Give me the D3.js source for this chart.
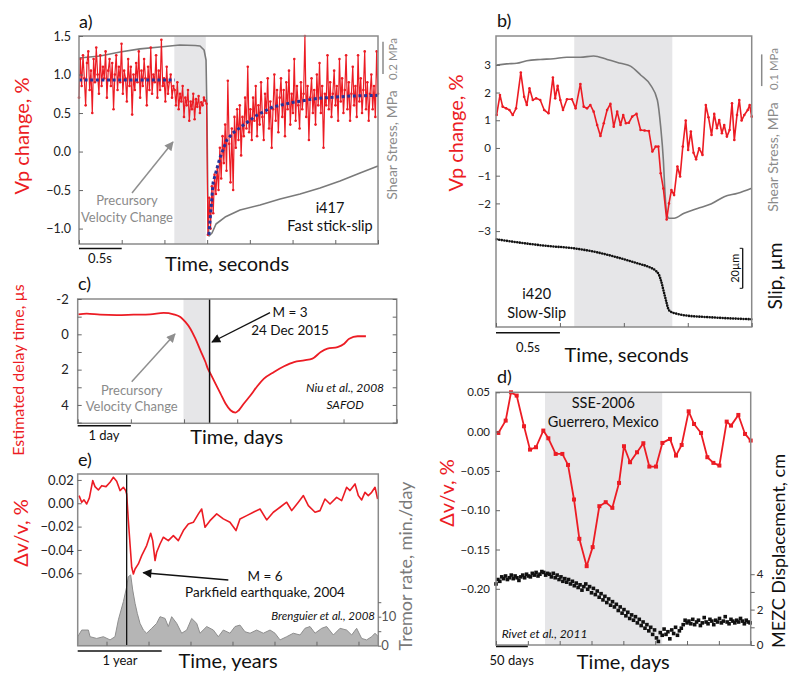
<!DOCTYPE html>
<html><head><meta charset="utf-8">
<script src="https://cdn.jsdelivr.net/npm/d3@7"></script>
<style>body{margin:0;background:#fff}text{font-family:Lato,"Open Sans",sans-serif}</style>
</head><body><svg id="c" width="800" height="686"></svg>
<script>
// ---------------- DATA ----------------
// Panel a (i417 fast stick-slip), time in s, sampled uniformly over 0..3.5 s
const aDuration = 3.5;
const aVp = [0.70,1.20,0.85,1.25,0.95,0.60,1.15,1.30,0.80,1.05,
  0.50,1.20,0.90,1.35,1.00,0.75,1.25,0.85,1.10,0.95,
  1.30,0.70,1.05,1.20,0.85,1.15,0.55,1.00,1.25,0.80,
  1.10,0.90,1.40,0.75,1.05,0.95,0.65,1.20,0.85,1.10,
  0.48,1.00,0.80,1.15,0.90,1.30,0.70,1.05,0.85,1.20,
  0.95,0.60,1.10,0.80,1.35,0.75,1.00,0.90,1.25,0.70,
  1.05,0.80,1.45,0.85,0.95,0.65,1.10,0.75,0.90,1.00,
  0.70,0.85,
  0.80,0.60,0.90,0.55,0.75,0.65,0.85,0.45,0.70,0.60,
  0.80,0.40,0.65,0.55,0.75,0.42,0.68,0.58,0.72,0.50,
  0.64,0.60,0.70,0.66,
  0.62,-1.08,
  -0.60,-1.00,-0.45,-0.80,-0.30,-0.55,-0.20,-0.50,0.05,-0.35,
  0.20,-0.15,0.35,-0.25,0.92,0.10,-0.40,0.30,-0.50,0.45,
  0.05,0.55,0.15,0.60,-0.05,0.45,0.20,0.70,0.30,1.10,
  0.25,0.55,0.15,0.70,0.40,0.85,0.20,0.60,0.35,0.90,
  0.45,0.15,0.75,0.50,0.95,0.30,0.65,0.05,0.55,1.00,
  0.40,0.80,0.25,0.70,0.95,0.45,0.80,0.20,0.90,0.55,
  1.05,0.35,0.75,0.50,1.20,0.40,0.85,0.60,0.30,0.90,
  0.55,0.75,1.50,0.45,0.85,0.15,0.70,0.95,0.50,0.80,
  0.35,1.00,0.60,1.15,0.50,0.85,0.05,0.75,0.60,1.25,
  0.55,0.90,0.45,0.75,1.05,0.60,0.85,0.40,1.20,0.65,
  0.95,0.50,0.80,1.25,0.55,0.90,0.40,0.75,1.10,0.60,
  0.85,0.45,1.25,0.65,0.95,0.50,0.80,1.30,0.55,0.90,
  0.40,0.75,1.00,0.55,0.85,0.45,1.30,0.75];
const aFitT = [0,1.12,null,1.52,1.57,1.65,1.73,1.80,1.92,2.08,2.27,2.51,2.79,3.17,3.5];
const aFitV = [0.93,0.93,null,-1.08,-0.40,-0.08,0.15,0.24,0.34,0.47,0.58,0.64,0.69,0.72,0.73];
const aStressT = [0,0.246,0.48,0.714,0.948,1.18,1.36,1.417,1.464,1.487,1.499,1.51,1.522,1.557,1.604,1.71,1.885,2.12,2.354,2.588,2.822,3.056,3.29,3.5];
const aStressV = [1.154,1.166,1.191,1.21,1.222,1.234,1.231,1.228,1.203,1.141,0.77,0.149,0.05,0.068,0.124,0.167,0.211,0.242,0.279,0.31,0.347,0.391,0.44,0.484];
const aShade = [1.116,1.484];
const aXTicks = [0,0.5,1,1.5,2,2.5,3,3.5];
const aYTicks = [-1,-0.5,0,0.5,1,1.5];

// Panel b (i420 slow slip)
const bVpT = [0.005,0.031,0.052,0.079,0.105,0.131,0.157,0.194,0.22,0.241,0.262,0.288,0.314,0.346,0.377,0.411,0.445,0.463,0.482,0.503,
  0.524,0.555,0.594,0.623,0.66,0.686,0.712,0.738,0.764,0.791,0.817,0.843,0.869,0.895,0.921,0.948,0.974,0.995,1.016,1.039,
  1.065,1.099,1.131,1.162,1.196,1.223,1.249,1.270,1.288,1.309,1.335,1.353,1.372,1.393,1.419,1.44,1.461,1.484,1.503,1.524,
  1.545,1.565,1.589,1.615,1.641,1.662,1.686,1.707,1.728,1.746,1.767,1.785,1.806,1.827,1.846,1.864,1.885,1.903,1.921,1.942,
  1.969,1.984,2.0];
const bVpV = [1.19,1.91,1.49,1.43,1.37,1.19,1.43,2.72,1.85,1.55,2.15,1.73,1.79,1.73,1.37,1.25,2.54,1.79,2.24,1.73,
  1.37,1.76,1.76,1.43,2.31,1.49,1.43,1.55,1.31,0.83,0.43,0.89,1.37,1.59,0.77,1.31,0.83,1.19,0.89,0.91,
  1.13,1.23,0.65,0.63,0.61,-0.13,0.05,0.05,-0.91,-1.46,-2.58,-2.0,-1.52,-1.70,-0.67,-1.03,0.05,0.99,-0.07,0.59,
  -0.17,-0.41,-0.01,-0.25,1.55,1.11,0.47,1.23,0.71,1.01,0.53,0.83,0.41,0.65,1.61,0.29,1.19,1.73,0.99,1.19,
  1.37,1.55,1.13];
const bStressT = [0.005,0.084,0.162,0.241,0.346,0.45,0.555,0.66,0.764,0.869,0.974,1.052,1.131,1.209,1.262,1.288,1.309,1.322,1.335,1.353,1.393,1.471,1.576,1.681,1.785,1.89,2.0];
const bStressV = [0.826,0.830,0.832,0.840,0.844,0.846,0.851,0.851,0.855,0.844,0.832,0.823,0.795,0.763,0.716,0.632,0.527,0.422,0.359,0.343,0.343,0.359,0.374,0.388,0.411,0.422,0.438];
const bSlipT = [0.005,0.188,0.398,0.607,0.79,0.974,1.105,1.209,1.249,1.275,1.293,1.309,1.322,1.332,1.346,1.366,1.419,1.497,1.628,1.759,1.89,2.0];
const bSlipV = [0,1.7,3.3,4.5,6.5,9.5,12,14.2,15.7,17.8,21.2,25.3,28.7,31.2,34.5,36.2,37.3,38.2,38.8,39.3,39.7,40];
const bShade = [0.612,1.379];
const bXTicks = [0,0.5,1,1.5,2];
const bYTicks = [-3,-2,-1,0,1,2,3];

// Panel c (SAFOD, days)
const cT = [0.013,0.17,0.421,0.736,1.05,1.365,1.616,1.805,1.931,2.025,2.119,2.214,2.308,2.403,2.447,2.497,2.591,2.686,2.78,2.874,
  2.969,3.031,3.126,3.252,3.377,3.503,3.692,3.881,4.069,4.258,4.415,4.572,4.698,4.887,5.013,5.107,5.264,5.421];
const cV = [-1.13,-1.17,-1.11,-1.09,-1.11,-1.13,-1.21,-1.13,-0.98,-0.70,-0.32,0.25,0.91,1.57,1.94,2.23,2.79,3.36,3.92,4.30,
  4.43,4.30,3.92,3.45,2.94,2.51,2.13,1.81,1.57,1.47,1.38,1.00,0.81,0.72,0.53,0.25,0.11,0.11];
const cShade = [1.99,2.46];
const cQuake = 2.48;
const cXTicks = [0,1,2,3,4,5,6];
const cYTicks = [-2,-1,0,1,2,3,4,5];
const cYLabels = [-2,0,2,4];

// Panel d (Guerrero SSE, days)
const dDayT = [3.7,15.2,23.6,32.5,44,53.4,62.8,74.3,82.2,93.7,104.2,113.1,122.5,130.9,142.4,151.8,162.3,172.3,182.7,193.2,
  201,210.5,221.5,231.4,240.8,251.3,261.3,273.3,282.7,291.6,302.6,311,322,331.9,341.4,350.8,362.3,369.1,380.6,391.1,400];
const dDv = [-0.0017,0.014,0.05,0.0458,0.0068,-0.0229,-0.0199,0.0013,-0.0085,-0.0284,-0.0284,-0.0424,-0.0864,-0.1364,-0.1712,-0.147,-0.0949,-0.0898,-0.097,-0.0653,
  -0.0186,-0.039,-0.0263,-0.0148,-0.0445,-0.0445,-0.0144,-0.0093,-0.0305,-0.017,0.0258,0.0097,-0.0017,-0.0326,-0.0398,-0.0432,0.0127,0.0076,0.0212,-0.003,-0.0114];
const dGpsStep = 3; // days between GPS samples, starting at day 0
const dGps = [3.45,3.70,3.60,3.85,3.75,3.90,3.70,3.80,3.95,3.75,3.90,3.80,3.65,3.85,3.95,3.80,4.00,3.90,3.85,4.05,3.95,4.10,3.90,4.00,4.15,
  4.10,3.95,4.05,4.00,3.85,4.05,3.80,3.95,3.70,3.85,3.60,3.75,3.55,3.70,3.45,3.60,3.35,3.50,3.25,3.40,3.10,3.30,3.45,3.15,3.30,2.95,
  3.20,2.85,3.05,2.70,2.90,2.55,2.75,2.40,2.60,2.25,2.45,2.15,2.30,1.95,2.15,1.80,2.00,1.65,1.85,1.50,1.70,1.40,1.60,1.25,1.45,1.10,1.30,0.95,1.15,0.80,1.00,0.60,0.85,0.40,0.20,
  0.70,0.55,0.90,0.60,0.75,0.35,0.85,0.65,1.00,0.55,0.80,0.95,1.15,1.40,1.25,
  1.35,1.20,1.45,1.15,1.30,1.40,1.10,1.25,1.55,1.30,1.20,1.45,1.35,1.15,1.40,1.30,1.50,1.25,1.35,1.60,1.30,1.20,1.45,1.35,1.25,1.40,1.30,1.50,1.35,1.20,1.40,1.30,1.25];
const dShade = [77,261];
const dXTicks = [0,50,100,150,200,250,300,350,400];
const dYTicks = [0.05,0,-0.05,-0.10,-0.15,-0.20];
const dRTicks = [0,1,2,3,4];
const dRLabels = [0,2,4];

// Panel e (Parkfield, years)
const eT = [2004.173,2004.205,2004.232,2004.264,2004.296,2004.336,2004.363,2004.403,2004.443,2004.494,2004.542,2004.582,2004.621,2004.661,2004.701,2004.728,2004.74,2004.76,2004.78,2004.8,
  2004.82,2004.84,2004.879,2004.919,2004.978,2005.026,2005.05,2005.078,2005.097,2005.137,2005.177,2005.236,2005.296,2005.355,2005.415,2005.474,2005.534,2005.594,2005.633,2005.673,
  2005.732,2005.812,2005.891,2005.97,2006.042,2006.089,2006.169,2006.248,2006.328,2006.407,2006.486,2006.566,2006.645,2006.705,2006.784,2006.844,2006.903,2006.983,2007.042,2007.101,
  2007.161,2007.24,2007.3,2007.359,2007.399,2007.459,2007.498,2007.538,2007.577,2007.617,2007.657,2007.697,2007.728];
const eDv = [0.0066,0.0009,0.0029,-0.0006,0.0046,0.0194,0.0143,0.0114,0.0151,0.0143,0.018,0.0223,0.0189,0.0109,0.0137,0.0109,0.008,-0.0149,-0.0349,-0.0549,
  -0.0606,-0.0563,-0.052,-0.0449,-0.0363,-0.0257,-0.032,-0.0491,-0.042,-0.0349,-0.0291,-0.032,-0.0277,-0.032,-0.0234,-0.0177,-0.0163,-0.0091,-0.0049,-0.0206,
  -0.0149,-0.0091,-0.0134,-0.0163,-0.0234,-0.0134,-0.0106,-0.0077,-0.0049,-0.0143,-0.0077,-0.0034,0.0009,-0.0063,0.0009,0.0066,-0.002,-0.0077,-0.0063,0.0037,
  -0.0006,0.0051,0.0023,0.0137,0.0109,0.0166,0.0066,0.0029,0.0094,0.0066,0.0094,0.0137,0.0037];
const eTremT = [2004.157,2004.205,2004.284,2004.304,2004.383,2004.463,2004.542,2004.601,2004.641,2004.701,2004.74,2004.76,2004.788,2004.812,2004.84,2004.867,2004.899,2004.939,2004.978,2005.038,
  2005.097,2005.137,2005.197,2005.236,2005.276,2005.336,2005.395,2005.455,2005.514,2005.574,2005.613,2005.693,2005.772,2005.831,2005.891,2005.97,2006.03,2006.089,2006.149,2006.209,
  2006.288,2006.367,2006.447,2006.506,2006.566,2006.645,2006.724,2006.804,2006.863,2006.923,2006.983,2007.062,2007.121,2007.201,2007.28,2007.359,2007.419,2007.478,2007.538,2007.597,
  2007.657,2007.697,2007.736];
const eTrem = [3.1,5.4,5.4,3.1,2.5,3.1,2.0,3.1,8.9,15.2,20.3,23.8,24.4,19.2,14.6,11.1,7.7,5.4,4.3,6.0,
  7.7,10.0,9.4,6.6,10.0,7.7,4.3,5.4,9.4,7.7,4.3,6.6,5.4,3.1,5.4,4.3,6.6,7.1,4.8,4.3,
  5.4,4.3,5.4,4.3,2.0,3.1,4.3,3.7,6.0,6.6,4.3,6.0,6.6,3.7,6.0,5.4,3.7,6.0,2.5,2.0,
  3.1,4.3,3.1];
const eQuake = 2004.74;
const eXTicks = [2004.5,2005,2005.5,2006,2006.5,2007,2007.5];
const eYTicks = [0.02,0,-0.02,-0.04,-0.06];
const eRTicks = [0,5,10,15];
const eRLabels = [0,10];

// ---------------- DRAW ----------------
const svg = d3.select("#c");
const RED = "#ec1c24", SHADE = "#e6e6e8", BOX = "#8a8a8a";
const defs = svg.append("defs");
function marker(id, color){
  defs.append("marker").attr("id",id).attr("viewBox","0 0 10 10").attr("refX",9).attr("refY",5)
    .attr("markerWidth",12).attr("markerHeight",9).attr("markerUnits","userSpaceOnUse").attr("orient","auto")
    .append("path").attr("d","M0,0L10,5L0,10z").attr("fill",color);
}
marker("ag", "#8f8f8f"); marker("ab", "#111");

function txt(x,y,s,o={}){
  const t = svg.append("text").attr("x",x).attr("y",y).text(s)
    .attr("font-size",o.size||14).attr("fill",o.fill||"#111").attr("text-anchor",o.anchor||"middle");
  if(o.italic) t.attr("font-style","italic");
  return t;
}
function vtxt(x,y,s,o={}){
  return svg.append("text").attr("transform",`translate(${x},${y}) rotate(-90)`).text(s)
    .attr("font-size",o.size||14).attr("fill",o.fill||"#111").attr("text-anchor","middle");
}
function rect(x0,x1,y0,y1,fill){
  svg.append("rect").attr("x",x0).attr("y",y0).attr("width",x1-x0).attr("height",y1-y0).attr("fill",fill);
}
function frame(x0,x1,y0,y1){
  svg.append("rect").attr("x",x0).attr("y",y0).attr("width",x1-x0).attr("height",y1-y0)
    .attr("fill","none").attr("stroke",BOX).attr("stroke-width",1.5);
}
function axis(gen, tx, ty, size, color){
  const g = svg.append("g").attr("transform",`translate(${tx},${ty})`).call(gen);
  g.select(".domain").remove();
  g.selectAll("line").attr("stroke","#666").attr("stroke-width",1);
  g.selectAll("text").attr("font-family","'Open Sans',sans-serif").attr("font-size",size||12).attr("fill",color||"#222");
  return g;
}
function line(x1,y1,x2,y2,color,w,mk){
  const l = svg.append("line").attr("x1",x1).attr("y1",y1).attr("x2",x2).attr("y2",y2)
    .attr("stroke",color).attr("stroke-width",w||1.5);
  if(mk) l.attr("marker-end",`url(#${mk})`);
  return l;
}
function path(data, gen, color, w){
  return svg.append("path").datum(data).attr("d",gen).attr("fill","none").attr("stroke",color).attr("stroke-width",w)
    .attr("stroke-linejoin","round");
}
const hyph = d => (d<0 ? "-" + Math.abs(d) : String(d));

// ===== Panel a =====
{
  const x = d3.scaleLinear([0,aDuration],[79,378]);
  const y = d3.scaleLinear([-1.2,1.5],[244,36]);
  const s = d3.scaleLinear([0,1.29],[244,36]);
  const step = aDuration/(aVp.length-1);
  const pts = aVp.map((v,i)=>[i*step, v]);
  rect(x(aShade[0]), x(aShade[1]), 36, 244, SHADE);
  path(d3.zip(aStressT,aStressV), d3.line().x(d=>x(d[0])).y(d=>s(d[1])), "#7a7a7a", 1.6);
  path(pts, d3.line().x(d=>x(d[0])).y(d=>y(d[1])), RED, 1.2);
  svg.append("g").selectAll("circle").data(pts).join("circle")
    .attr("cx",d=>x(d[0])).attr("cy",d=>y(d[1])).attr("r",1.3).attr("fill",RED);
  path(d3.zip(aFitT,aFitV), d3.line().defined(d=>d[0]!==null).x(d=>x(d[0])).y(d=>y(d[1])), "#26339a", 3)
    .attr("stroke-dasharray","3,2.6");
  frame(79,378,36,244);
  axis(d3.axisBottom(x).tickValues(aXTicks).tickSize(-4).tickFormat(""), 0, 244);
  axis(d3.axisLeft(y).tickValues(aYTicks).tickSize(-4).tickPadding(8).tickFormat(d3.format(".1f")), 79, 0, 12.5);
  line(383, s(1.255), 383, s(1.055), "#8a8a8a", 1.5);
  vtxt(397, 59, "0.2 MPa", {size:11.5, fill:"#8a8a8a"});
  vtxt(397, 145, "Shear Stress, MPa", {size:14, fill:"#8a8a8a"});
  vtxt(29, 136, "Vp change, %", {size:20, fill:RED});
  txt(79, 28, "a)", {size:18, anchor:"start"});
  txt(227, 271, "Time, seconds", {size:20});
  line(x(0), 248.5, x(0.5), 248.5, "#111", 1.5);
  txt(100, 263, "0.5s", {size:13});
  txt(127, 205, "Precursory", {size:13, fill:"#8a8a8a"});
  txt(127, 222, "Velocity Change", {size:13, fill:"#8a8a8a"});
  line(132, 193, 173, 142, "#8f8f8f", 1.5, "ag");
  txt(330, 213, "i417", {size:14.5});
  txt(330, 231, "Fast stick-slip", {size:14.5});
}

// ===== Panel b =====
{
  const x = d3.scaleLinear([0,2],[496,751.7]);
  const y = d3.scaleLinear([-6.46,4.04],[327,36]);
  const s = d3.scaleLinear([0,0.918],[327,36]);
  const sl = d3.scaleLinear([0,40],[239.3,319.3]);
  rect(x(bShade[0]), x(bShade[1]), 36, 327, SHADE);
  path(d3.zip(bStressT,bStressV), d3.line().x(d=>x(d[0])).y(d=>s(d[1])).curve(d3.curveMonotoneX), "#7a7a7a", 1.6);
  const pts = d3.zip(bVpT,bVpV);
  path(pts, d3.line().x(d=>x(d[0])).y(d=>y(d[1])), RED, 1.6);
  svg.append("g").selectAll("circle").data(pts).join("circle")
    .attr("cx",d=>x(d[0])).attr("cy",d=>y(d[1])).attr("r",1.3).attr("fill",RED);
  path(d3.zip(bSlipT,bSlipV), d3.line().x(d=>x(d[0])).y(d=>sl(d[1])).curve(d3.curveMonotoneX), "#111", 2.6)
    .attr("stroke-linecap","round").attr("stroke-dasharray","0,2.6");
  frame(496,751.7,36,327);
  axis(d3.axisBottom(x).tickValues(bXTicks).tickSize(-4).tickFormat(""), 0, 327);
  axis(d3.axisLeft(y).tickValues(bYTicks).tickSize(-4).tickPadding(5).tickFormat(d3.format("d")), 496, 0, 11.5);
  line(761.7, s(0.86), 761.7, s(0.76), "#8a8a8a", 1.5);
  vtxt(778, 69, "0.1 MPa", {size:11.5, fill:"#8a8a8a"});
  vtxt(778, 157, "Shear Stress, MPa", {size:14, fill:"#8a8a8a"});
  line(742.7, sl(4.5), 742.7, sl(24.5), "#111", 1.3);
  line(739.7, sl(4.5), 742.7, sl(4.5), "#111", 1);
  line(739.7, sl(24.5), 742.7, sl(24.5), "#111", 1);
  vtxt(739, 268.3, "20µm", {size:11});
  vtxt(782, 276, "Slip, µm", {size:19});
  vtxt(463, 133, "Vp change, %", {size:20, fill:RED});
  txt(497, 27, "b)", {size:18, anchor:"start"});
  txt(536.7, 299, "i420", {size:14.5});
  txt(536.7, 318, "Slow-Slip", {size:14.5});
  txt(626.7, 362, "Time, seconds", {size:20});
  line(x(0), 332.7, x(0.5), 332.7, "#111", 1.5);
  txt(528, 351.7, "0.5s", {size:13});
}

// ===== Panel c =====
{
  const x = d3.scaleLinear([0,6],[77.7,396.7]);
  const y = d3.scaleLinear([-2,5.04],[299,423.3]);
  rect(x(cShade[0]), x(cShade[1]), 299, 423.3, SHADE);
  path(d3.zip(cT,cV), d3.line().x(d=>x(d[0])).y(d=>y(d[1])).curve(d3.curveMonotoneX), RED, 1.8);
  line(x(cQuake), 299, x(cQuake), 423.3, "#111", 1.5);
  frame(77.7,396.7,299,423.3);
  axis(d3.axisBottom(x).tickValues(cXTicks).tickSize(-4).tickFormat(""), 0, 423.3);
  axis(d3.axisLeft(y).tickValues(cYTicks).tickSize(-4).tickPadding(9).tickFormat(d=>cYLabels.includes(d)?hyph(d):""), 77.7, 0, 13);
  axis(d3.axisRight(y).tickValues(cYTicks).tickSize(-4).tickFormat(""), 396.7, 0);
  txt(78, 290, "c)", {size:18, anchor:"start"});
  vtxt(24, 370, "Estimated delay time, µs", {size:16, fill:RED});
  txt(290, 316.7, "M = 3", {size:13.5});
  txt(290, 335, "24 Dec 2015", {size:13.5});
  line(270, 312.7, 212, 342, "#111", 1.4, "ab");
  txt(131.7, 395, "Precursory", {size:13, fill:"#8a8a8a"});
  txt(131.7, 411, "Velocity Change", {size:13, fill:"#8a8a8a"});
  line(131.7, 381.7, 175, 334, "#8f8f8f", 1.5, "ag");
  txt(345, 391.7, "Niu et al., 2008", {size:12, italic:true});
  txt(345, 409.3, "SAFOD", {size:12, italic:true});
  txt(236.7, 444, "Time, days", {size:20});
  line(x(0), 425.7, x(1), 425.7, "#111", 1.5);
  txt(104, 440, "1 day", {size:13});
}

// ===== Panel e =====
{
  const x = d3.scaleLinear([2004.157,2007.736],[77.7,378.3]);
  const y = d3.scaleLinear([-0.1221,0.0251],[645.7,474]);
  const t = d3.scaleLinear([0,59.2],[645.7,474]);
  svg.append("path").datum(d3.zip(eTremT,eTrem))
    .attr("d", d3.area().x(d=>x(d[0])).y0(645.7).y1(d=>t(d[1])))
    .attr("fill","#b5b5b5").attr("stroke","#8e8e8e").attr("stroke-width",1);
  path(d3.zip(eT,eDv), d3.line().x(d=>x(d[0])).y(d=>y(d[1])), RED, 1.6);
  line(x(eQuake), 474, x(eQuake), 645.7, "#111", 1.3);
  frame(77.7,378.3,474,645.7);
  axis(d3.axisBottom(x).tickValues(eXTicks).tickSize(-4).tickFormat(""), 0, 645.7);
  axis(d3.axisLeft(y).tickValues(eYTicks).tickSize(-4).tickPadding(4).tickFormat(d3.format(".2f")), 77.7, 0, 13);
  axis(d3.axisRight(t).tickValues(eRTicks).tickSize(3).tickPadding(0).tickFormat(d=>eRLabels.includes(d)?d:""), 378.3, 0, 13, "#555");
  txt(78, 466, "e)", {size:18, anchor:"start"});
  vtxt(28, 533, "Δv/v, %", {size:20, fill:RED});
  vtxt(412, 566, "Tremor rate, min./day", {size:18, fill:"#7a7a7a"});
  line(228.3, 580, 143.3, 572.7, "#111", 1.4, "ab");
  txt(265, 580.7, "M = 6", {size:13.5});
  txt(265, 596.7, "Parkfield earthquake, 2004", {size:13.5});
  txt(375, 620, "Brenguier et al., 2008", {size:11.5, italic:true, anchor:"end"});
  txt(228, 668, "Time, years", {size:20});
  line(x(2004.157), 651, x(2005.157), 651, "#111", 1.5);
  txt(120, 665, "1 year", {size:13});
}

// ===== Panel d =====
{
  const x = d3.scaleLinear([0,400],[496,750.7]);
  const y = d3.scaleLinear([-0.2715,0.05],[645,392.3]);
  const m = d3.scaleLinear([0,14.28],[645,392.3]);
  rect(x(dShade[0]), x(dShade[1]), 392.3, 645, SHADE);
  svg.append("g").selectAll("rect").data(dGps.map((v,i)=>[i*dGpsStep, v])).join("rect")
    .attr("x",d=>x(d[0])-1.8).attr("y",d=>m(d[1])-1.8).attr("width",3.6).attr("height",3.6).attr("fill","#111");
  const pts = d3.zip(dDayT,dDv);
  path(pts, d3.line().x(d=>x(d[0])).y(d=>y(d[1])), RED, 1.8);
  svg.append("g").selectAll("rect").data(pts).join("rect")
    .attr("x",d=>x(d[0])-2).attr("y",d=>y(d[1])-2).attr("width",4).attr("height",4).attr("fill",RED);
  frame(496,750.7,392.3,645);
  axis(d3.axisBottom(x).tickValues(dXTicks).tickSize(-4).tickFormat(""), 0, 645);
  axis(d3.axisLeft(y).tickValues(dYTicks).tickSize(-4).tickPadding(6).tickFormat(d3.format(".2f")), 496, 0, 11.5);
  axis(d3.axisRight(m).tickValues(dRTicks).tickSize(4).tickPadding(2).tickFormat(d=>dRLabels.includes(d)?d:""), 750.7, 0, 11.5);
  txt(497, 383, "d)", {size:18, anchor:"start"});
  txt(603.3, 408.3, "SSE-2006", {size:14.5});
  txt(603.3, 427.3, "Guerrero, Mexico", {size:14.5});
  txt(501.7, 638.3, "Rivet et al., 2011", {size:12, italic:true, anchor:"start"});
  vtxt(454, 493, "Δv/v, %", {size:20, fill:RED});
  vtxt(785, 551, "MEZC Displacement, cm", {size:18});
  txt(623.3, 668.5, "Time, days", {size:20});
  line(x(0), 646.5, x(50), 646.5, "#111", 1.5);
  txt(511.7, 665, "50 days", {size:13});
}
</script>
</body></html>
